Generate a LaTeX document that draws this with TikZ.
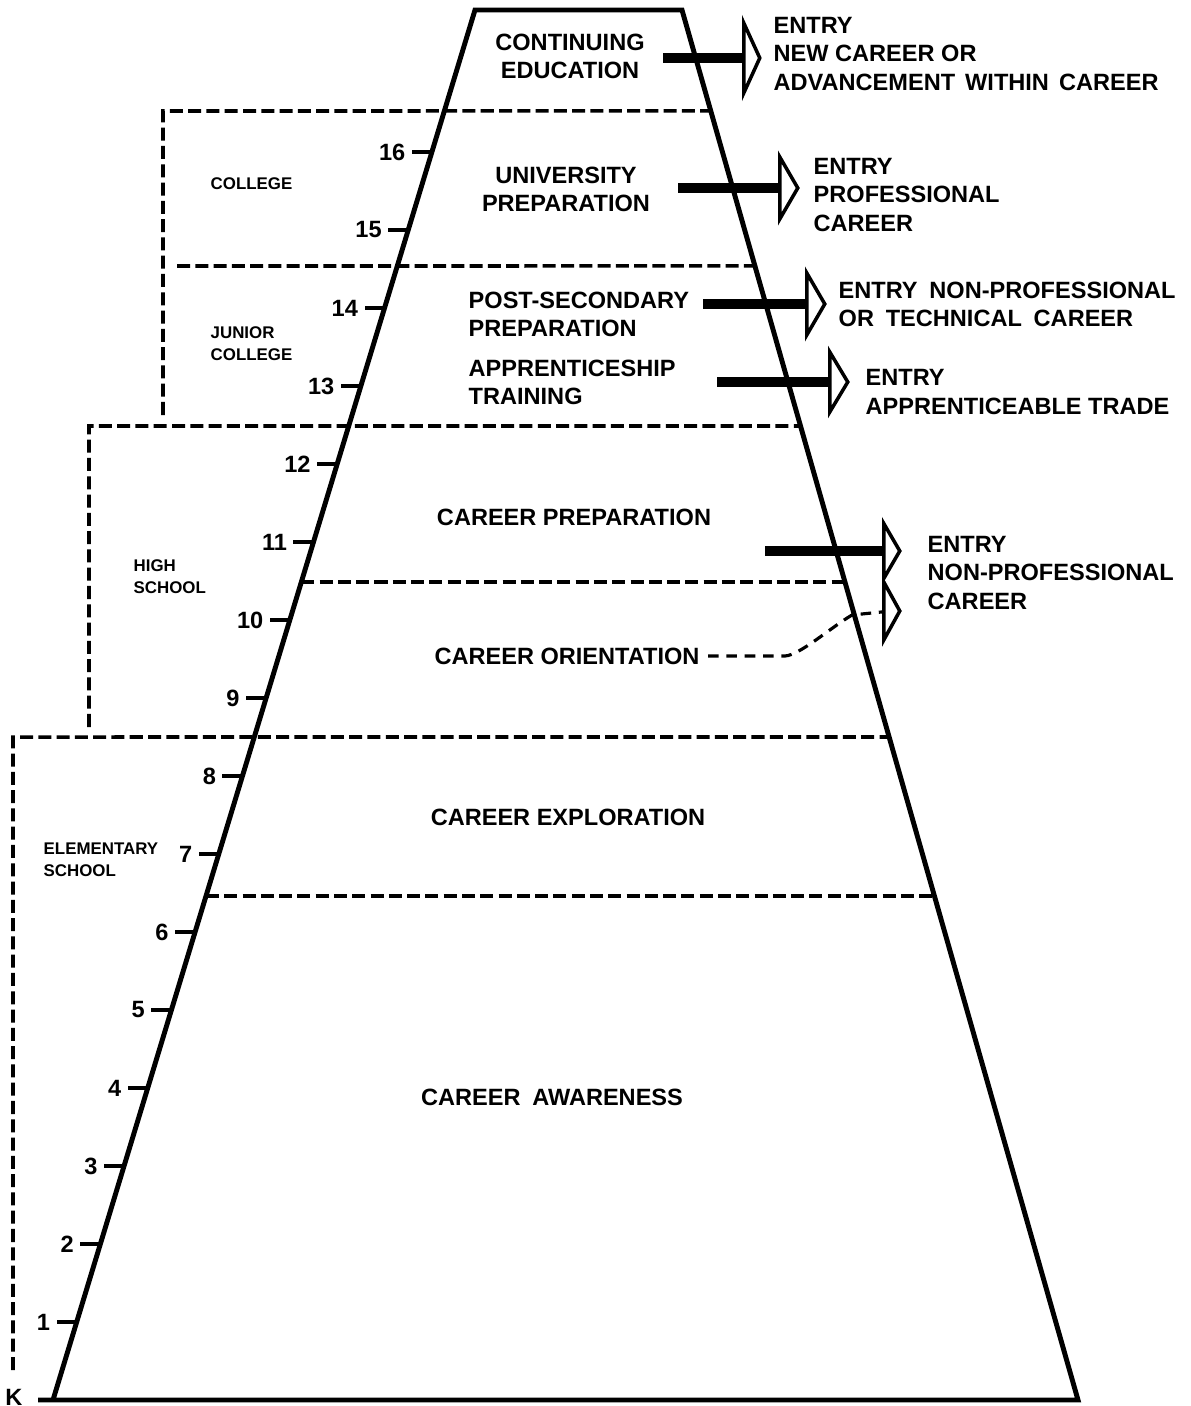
\documentclass[tikz,border=0pt]{standalone}
\usepackage{fontspec}
\setmainfont{Liberation Sans}
\usepackage{tikz}
\usetikzlibrary{calc,shapes.geometric}

\tikzset{
  frame/.style={line width=1.4pt, line join=miter},
  level/.style={line width=1pt, dash pattern=on 3.7pt off 1.5pt},
  tick/.style={line width=0.9pt},
  link/.style={line width=0.9pt, dash pattern=on 3pt off 2.2pt},
  gradelbl/.style={font=\bfseries\fontsize{6.7}{8}\selectfont, anchor=east, inner sep=0pt},
  stage/.style={font=\bfseries\fontsize{6.7}{8}\selectfont, align=center, inner sep=0pt},
  school/.style={font=\bfseries\fontsize{4.8}{6.2}\selectfont, align=left, anchor=west, inner sep=0pt},
  entry/.style={font=\bfseries\fontsize{6.7}{8}\selectfont, align=left, anchor=west, inner sep=0pt},
  bar/.style={line width=2.8pt},
  head/.style={draw, fill=white, line width=1pt, shape=isosceles triangle,
    isosceles triangle stretches, inner sep=0pt, anchor=west,
    minimum height=0.18cm, minimum width=0.62cm},
}

\begin{document}
\begin{tikzpicture}[x=0.01cm, y=-0.01cm]
  \useasboundingbox (0,0) rectangle (1191,1406);

  % corners of the pyramid
  \coordinate (tl) at (475,10);
  \coordinate (tr) at (682,10);
  \coordinate (bl) at (53,1400);
  \coordinate (br) at (1078,1400);
  \coordinate (k0) at (38,1400);

  % school boxes
  \draw[level] (163,415) -- (163,111) -- ($(tr)!{101/1390}!(br)$);
  \draw[level] (177,266) -- ($(tr)!{256/1390}!(br)$);
  \draw[level] (89,727) -- (89,426) -- ($(tr)!{416/1390}!(br)$);
  \draw[level] ($(tl)!{572/1390}!(bl)$) -- ($(tr)!{572/1390}!(br)$);
  \draw[level] (13,1370) -- (13,737) -- ($(tr)!{727/1390}!(br)$);
  \draw[level] ($(tl)!{886/1390}!(bl)$) -- ($(tr)!{886/1390}!(br)$);

  % pyramid
  \draw[frame] (k0) -- (br) -- (tr) -- (tl) -- (bl);

  % grade scale
  \foreach \g in {1,...,16}{
    \coordinate (t\g) at ($(tl)!{(1390-78*\g)/1390}!(bl)$);
    \draw[tick] (t\g) -- ++(-20,0) node[gradelbl, xshift=-0.05cm] (n\g) {\g};
  }
  \node[gradelbl] (nk) at (23,1397) {K};

  % school labels
  \node[school] (coll) at (210,184) {COLLEGE};
  \node[school] (jcoll) at (210,344) {JUNIOR\\COLLEGE};
  \node[school] (high) at (133,577) {HIGH\\SCHOOL};
  \node[school] (elem) at (43,860) {ELEMENTARY\\SCHOOL};

  % stages
  \node[stage] (cont) at (570,56) {CONTINUING\\EDUCATION};
  \node[stage] (univ) at (566,189) {UNIVERSITY\\PREPARATION};
  \node[stage, anchor=west, align=left] (post) at (468,314) {POST-SECONDARY\\PREPARATION};
  \node[stage, anchor=west, align=left] (appr) at (468,382) {APPRENTICESHIP\\TRAINING};
  \node[stage] (prep) at (574,517) {CAREER PREPARATION};
  \node[stage] (orient) at (567,656) {CAREER ORIENTATION};
  \node[stage] (explor) at (568,817) {CAREER EXPLORATION};
  \node[stage] (aware) at (552,1097) {CAREER\enspace AWARENESS};

  % entries
  \node[entry] (e1) at (773,54) {ENTRY\\NEW CAREER OR\\ADVANCEMENT\kern1pt{} WITHIN\kern1pt{} CAREER};
  \node[entry] (e2) at (813,195) {ENTRY\\PROFESSIONAL\\CAREER};
  \node[entry] (e3) at (838,304) {ENTRY\enspace NON-PROFESSIONAL\\OR\enspace TECHNICAL\enspace CAREER};
  \node[entry] (e4) at (865,392) {ENTRY\\APPRENTICEABLE TRADE};
  \node[entry] (e5) at (927,573) {ENTRY\\NON-PROFESSIONAL\\CAREER};

  % arrows
  \coordinate (b1) at (663,58);
  \coordinate (b2) at (678,188);
  \coordinate (b3) at (703,304);
  \coordinate (b4) at (717,382);
  \coordinate (b5) at (765,551);
  \node[head, minimum width=0.7cm, minimum height=0.16cm] (h1) at (742,58) {};
  \node[head] (h2) at (778,188) {};
  \node[head] (h3) at (805,304) {};
  \node[head, minimum width=0.6cm] (h4) at (828,382) {};
  \node[head, minimum width=0.55cm, minimum height=0.16cm] (h5) at (882,551) {};
  \node[head, minimum width=0.58cm, minimum height=0.16cm] (h6) at (882,611) {};
  \draw[bar] (b1) -- (h1);
  \draw[bar] (b2) -- (h2);
  \draw[bar] (b3) -- (h3);
  \draw[bar] (b4) -- (h4);
  \draw[bar] (b5) -- (h5);
  \draw[link] ([xshift=0.08cm]orient.east) -- (785,656)
    .. controls (800,655) and (830,628) .. (852,615) -- (h6);
\end{tikzpicture}
\end{document}
